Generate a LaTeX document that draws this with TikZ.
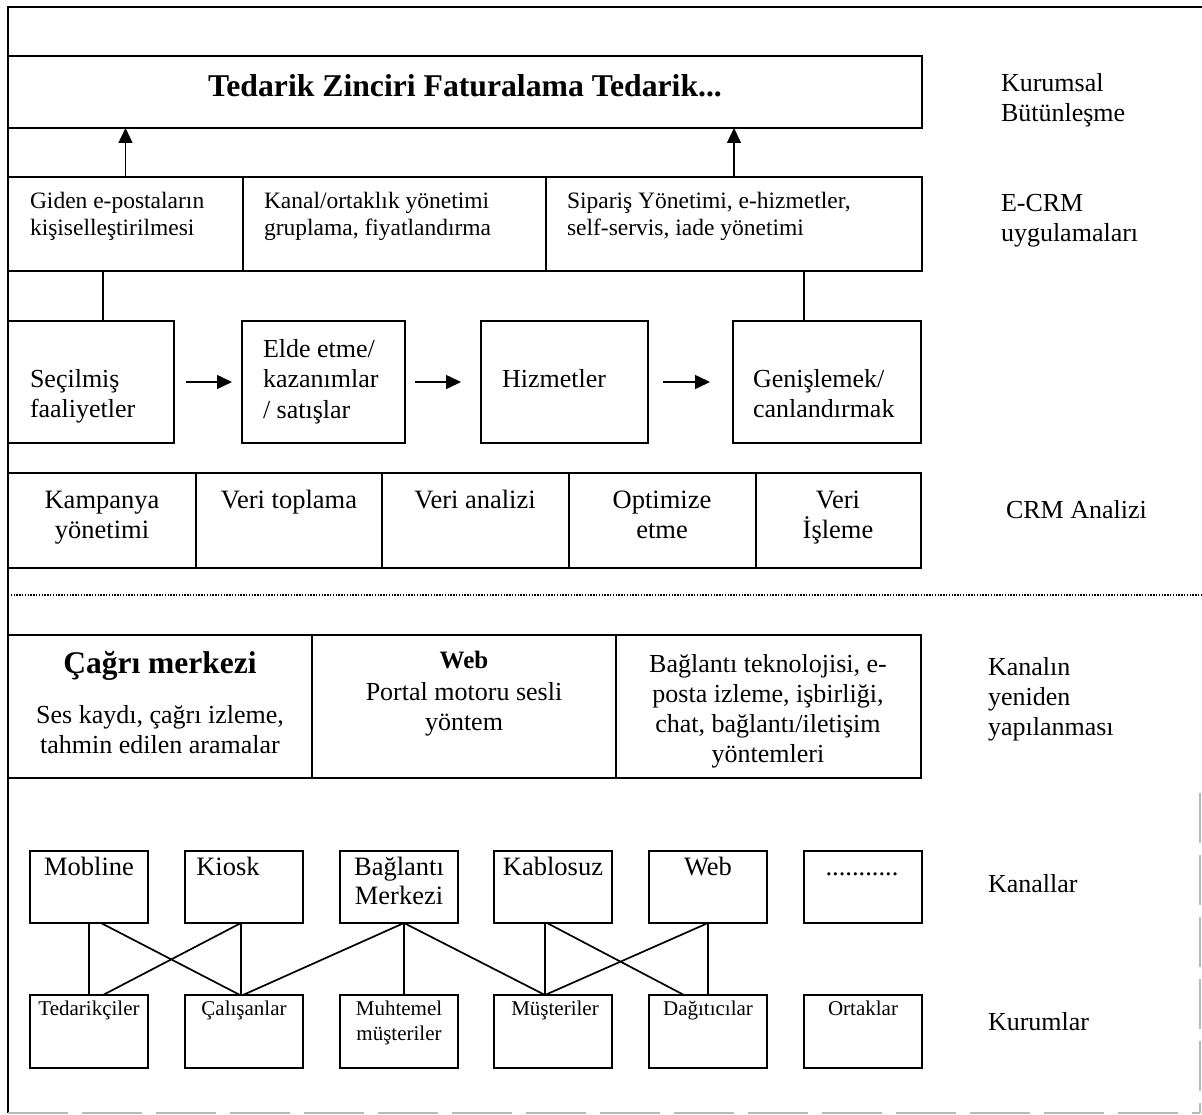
\documentclass[tikz,border=0pt]{standalone}
\usepackage{fontspec}
\setmainfont{Liberation Serif}
\usetikzlibrary{arrows.meta}
\newcommand\TLft[1]{\begin{tabular}[t]{@{}l@{}}#1\end{tabular}}
\newcommand\TCtr[1]{\begin{tabular}[t]{@{}c@{}}#1\end{tabular}}
\newcommand\fTitle{\fontsize{31.7}{36}\selectfont\bfseries}
\newcommand\fLab{\fontsize{26}{30}\selectfont}
\newcommand\fEcrm{\fontsize{23.5}{27}\selectfont}
\newcommand\fProc{\fontsize{26}{30.5}\selectfont}
\newcommand\fCrm{\fontsize{26.5}{30}\selectfont}
\newcommand\fKan{\fontsize{26}{30}\selectfont}
\newcommand\fCh{\fontsize{26.5}{29}\selectfont}
\newcommand\fOrg{\fontsize{21}{25}\selectfont}
\newcommand\bxn[5]{\node[bx,minimum width={(#4)-(#2)},minimum height={(#5)-(#3)}] (#1) at ({((#2)+(#4))/2},{((#3)+(#5))/2}) {};}
\begin{document}
\begin{tikzpicture}[x=1pt,y=-1pt,
  bx/.style={draw,line width=1.6pt,inner sep=0pt,outer sep=0pt},
  txt/.style={inner sep=0pt,outer sep=0pt},
  arr/.style={line width=1.5pt,-{Triangle[length=15pt,width=14pt]}},
  con/.style={line width=1.7pt},
  frame/.style={line width=1.6pt}]
\useasboundingbox (0,0) rectangle (1202,1115);
% outer frame
\draw[frame] (8,1113) -- (8,7) -- (1202,7);
\draw[line width=1.2pt,gray!55,dash pattern=on 60pt off 14pt] (8,1113) -- (1200,1113);
\draw[line width=1.2pt,gray!55,dash pattern=on 50pt off 12pt] (1200,793) -- (1200,1113);
% title box
\bxn{tb}{8}{56}{922}{128}
\node[txt,anchor=base,font=\fTitle] (ttl) at (465,97) {Tedarik Zinciri Faturalama Tedarik...};
% E-CRM row
\bxn{e1}{8}{177}{243}{271}
\bxn{e2}{243}{177}{546}{271}
\bxn{e3}{546}{177}{922}{271}
\node[txt,anchor=base west,font=\fEcrm] (te1) at (30,209) {\TLft{Giden e-postaların\\kişiselleştirilmesi}};
\node[txt,anchor=base west,font=\fEcrm] (te2) at (264,209) {\TLft{Kanal/ortaklık yönetimi\\gruplama, fiyatlandırma}};
\node[txt,anchor=base west,font=\fEcrm] (te3) at (567,209) {\TLft{Sipariş Yönetimi, e-hizmetler,\\self-servis, iade yönetimi}};
\draw[arr] (e1.north) -- (e1.north |- tb.south);
\draw[arr] (e3.north) -- (e3.north |- tb.south);
% process row
\bxn{p1}{8}{321}{174}{443}
\bxn{p2}{242}{321}{405}{443}
\bxn{p3}{481}{321}{648}{443}
\bxn{p4}{733}{321}{921}{443}
\node[txt,anchor=base west,font=\fProc] (tp1) at (30,387) {\TLft{Seçilmiş\\faaliyetler}};
\node[txt,anchor=base west,font=\fProc] (tp2) at (263,357) {\TLft{Elde etme/\\kazanımlar\\/ satışlar}};
\node[txt,anchor=base west,font=\fProc] (tp3) at (502,387) {Hizmetler};
\node[txt,anchor=base west,font=\fProc] (tp4) at (753,387) {\TLft{Genişlemek/\\canlandırmak}};
\draw[arr,shorten <=12pt,shorten >=10pt] (p1.east) -- (p2.west);
\draw[arr,shorten <=10pt,shorten >=20pt] (p2.east) -- (p3.west);
\draw[arr,shorten <=15pt,shorten >=23pt] (p3.east) -- (p4.west);
\draw[con] ([xshift=12pt]p1.north) -- ([xshift=12pt]p1.north |- e1.south);
\draw[con] ([xshift=-23pt]p4.north) -- ([xshift=-23pt]p4.north |- e3.south);
% CRM analysis row
\bxn{c1}{8}{473}{196}{568}
\bxn{c2}{196}{473}{382}{568}
\bxn{c3}{382}{473}{569}{568}
\bxn{c4}{569}{473}{756}{568}
\bxn{c5}{756}{473}{921}{568}
\node[txt,anchor=base,font=\fCrm] (tc1) at (102,508) {\TCtr{Kampanya\\yönetimi}};
\node[txt,anchor=base,font=\fCrm] (tc2) at (289,508) {Veri toplama};
\node[txt,anchor=base,font=\fCrm] (tc3) at (475,508) {Veri analizi};
\node[txt,anchor=base,font=\fCrm] (tc4) at (662,508) {\TCtr{Optimize\\etme}};
\node[txt,anchor=base,font=\fCrm] (tc5) at (838,508) {\TCtr{Veri\\İşleme}};
% dotted separator
\draw[line width=1.2pt,dash pattern=on 1.4pt off 1.4pt] (8,595) -- (1202,595);
% channel restructuring row
\bxn{k1}{8}{635}{312}{778}
\bxn{k2}{312}{635}{616}{778}
\bxn{k3}{616}{635}{921}{778}
\node[txt,anchor=base,font=\fontsize{31.5}{36}\selectfont\bfseries] (tk1a) at (160,673) {Çağrı merkezi};
\node[txt,anchor=base,font=\fKan] (tk1b) at (160,723) {\TCtr{Ses kaydı, çağrı izleme,\\tahmin edilen aramalar}};
\node[txt,anchor=base,font=\fontsize{25}{30}\selectfont\bfseries] (tk2a) at (464,668) {Web};
\node[txt,anchor=base,font=\fKan] (tk2b) at (464,700) {\TCtr{Portal motoru sesli\\yöntem}};
\node[txt,anchor=base,font=\fKan] (tk3) at (768,672) {\TCtr{Bağlantı teknolojisi, e-\\posta izleme, işbirliği,\\chat, bağlantı/iletişim\\yöntemleri}};
% channels
\bxn{ch1}{30}{851}{148}{923}
\bxn{ch2}{185}{851}{303}{923}
\bxn{ch3}{340}{851}{458}{923}
\bxn{ch4}{494}{851}{612}{923}
\bxn{ch5}{649}{851}{767}{923}
\bxn{ch6}{804}{851}{922}{923}
\node[txt,anchor=base,font=\fCh] (tch1) at (89,875) {Mobline};
\node[txt,anchor=base,font=\fCh] (tch2) at (228,875) {Kiosk};
\node[txt,anchor=base,font=\fCh] (tch3) at (399,875) {\TCtr{Bağlantı\\Merkezi}};
\node[txt,anchor=base,font=\fCh] (tch4) at (553,875) {Kablosuz};
\node[txt,anchor=base,font=\fCh] (tch5) at (708,875) {Web};
\node[txt,anchor=base,font=\fCh] (tch6) at (862,875) {...........};
% organisations
\bxn{o1}{30}{995}{148}{1068}
\bxn{o2}{185}{995}{303}{1068}
\bxn{o3}{340}{995}{458}{1068}
\bxn{o4}{494}{995}{612}{1068}
\bxn{o5}{649}{995}{767}{1068}
\bxn{o6}{804}{995}{922}{1068}
\node[txt,anchor=base,font=\fOrg] (to1) at (89,1015) {Tedarikçiler};
\node[txt,anchor=base,font=\fOrg] (to2) at (244,1015) {Çalışanlar};
\node[txt,anchor=base,font=\fOrg] (to3) at (399,1015) {\TCtr{Muhtemel\\müşteriler}};
\node[txt,anchor=base,font=\fOrg] (to4) at (555,1015) {Müşteriler};
\node[txt,anchor=base,font=\fOrg] (to5) at (708,1015) {Dağıtıcılar};
\node[txt,anchor=base,font=\fOrg] (to6) at (863,1015) {Ortaklar};
% connectors channels -> organisations
\draw[con] (ch1.south) -- (o1.north);
\draw[con] ([xshift=12pt]ch1.south) -- ([xshift=-4pt]o2.north);
\draw[con] ([xshift=-3pt]ch2.south) -- ([xshift=14pt]o1.north);
\draw[con] ([xshift=-3pt]ch2.south) -- ([xshift=-3pt]o2.north);
\draw[con] ([xshift=5pt]ch3.south) -- ([xshift=-1pt]o2.north);
\draw[con] ([xshift=5pt]ch3.south) -- ([xshift=5pt]o3.north);
\draw[con] ([xshift=5pt]ch3.south) -- ([xshift=-8pt]o4.north);
\draw[con] ([xshift=-8pt]ch4.south) -- ([xshift=-8pt]o4.north);
\draw[con] ([xshift=-6pt]ch4.south) -- ([xshift=-24pt]o5.north);
\draw[con] (ch5.south) -- ([xshift=-8pt]o4.north);
\draw[con] (ch5.south) -- (o5.north);
% right-hand labels
\node[txt,anchor=base west,font=\fLab] (l1) at (1001,92) {\TLft{Kurumsal\\Bütünleşme}};
\node[txt,anchor=base west,font=\fLab] (l2) at (1001,212) {\TLft{E-CRM\\uygulamaları}};
\node[txt,anchor=base west,font=\fLab] (l3) at (1006,518) {CRM Analizi};
\node[txt,anchor=base west,font=\fLab] (l4) at (988,675) {\TLft{Kanalın\\yeniden\\yapılanması}};
\node[txt,anchor=base west,font=\fLab] (l5) at (988,892) {Kanallar};
\node[txt,anchor=base west,font=\fLab] (l6) at (988,1030) {Kurumlar};
\end{tikzpicture}
\end{document}
